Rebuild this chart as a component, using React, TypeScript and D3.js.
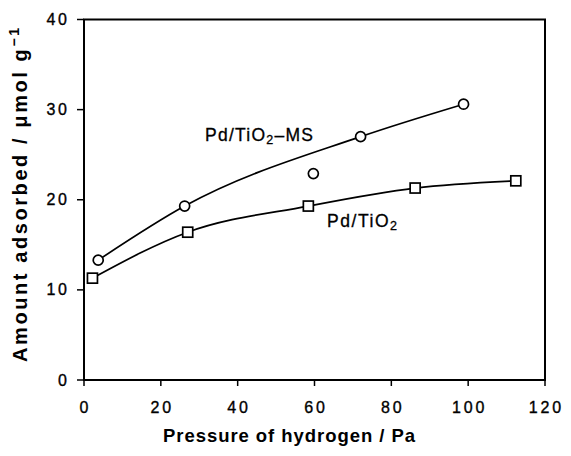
import React from "react";
import * as d3 from "d3";

const msPressure = [3.7, 26.2, 59.7, 72.0, 98.8];
const msAmount = [13.3, 19.3, 22.9, 27.0, 30.6];
const msCurvePressure = [3.7, 26.2, 72.0, 98.8];
const msCurveAmount = [13.3, 19.3, 27.0, 30.6];

const tiPressure = [2.2, 27.0, 58.4, 86.2, 112.4];
const tiAmount = [11.3, 16.4, 19.3, 21.3, 22.1];

const xTicks = [0, 20, 40, 60, 80, 100, 120];
const yTicks = [0, 10, 20, 30, 40];

const W = 571;
const H = 456;
const left = 84;
const right = 545;
const top = 19.5;
const bottom = 380;

export default function App() {
  const x = d3.scaleLinear().domain([0, 120]).range([left, right]);
  const y = d3.scaleLinear().domain([0, 40]).range([bottom, top]);
  const line = d3
    .line<[number, number]>()
    .x((d) => x(d[0]))
    .y((d) => y(d[1]))
    .curve(d3.curveMonotoneX);
  const msLine = line(msCurvePressure.map((p, i) => [p, msCurveAmount[i]] as [number, number]));
  const tiLine = line(tiPressure.map((p, i) => [p, tiAmount[i]] as [number, number]));
  const font = "Liberation Sans, Arial, sans-serif";
  const fs = 16;
  const ls = 2.8;
  const tw = (s: string) => s.length * fs * 0.556 + (s.length - 1) * ls;
  return (
    <svg width={W} height={H} style={{ position: "absolute", left: 0, top: 0, background: "#fff" }}>
      <rect x={0} y={0} width={W} height={H} fill="#fff" />
      <rect x={left} y={top} width={right - left} height={bottom - top} fill="none" stroke="#000" strokeWidth={2} />
      {xTicks.map((t) => (
        <g key={"x" + t}>
          <line x1={x(t)} x2={x(t)} y1={bottom} y2={bottom + 6} stroke="#000" strokeWidth={1.5} />
          <text
            x={x(t) - tw(String(t)) / 2}
            y={413}
            fontFamily={font}
            fontSize={fs}
            letterSpacing={ls}
            fill="#000"
            stroke="#000"
            strokeWidth={0.35}
          >
            {t}
          </text>
        </g>
      ))}
      {yTicks.map((t) => (
        <g key={"y" + t}>
          <line x1={left - 7} x2={left} y1={y(t)} y2={y(t)} stroke="#000" strokeWidth={1.5} />
          <text
            x={67 - tw(String(t))}
            y={y(t) + 5.5}
            fontFamily={font}
            fontSize={fs}
            letterSpacing={ls}
            fill="#000"
            stroke="#000"
            strokeWidth={0.35}
          >
            {t}
          </text>
        </g>
      ))}
      <path d={msLine ?? ""} fill="none" stroke="#000" strokeWidth={1.7} />
      <path d={tiLine ?? ""} fill="none" stroke="#000" strokeWidth={1.7} />
      {msPressure.map((p, i) => (
        <circle key={"c" + i} cx={x(p)} cy={y(msAmount[i])} r={5} fill="#fff" stroke="#000" strokeWidth={1.7} />
      ))}
      {tiPressure.map((p, i) => (
        <rect key={"s" + i} x={x(p) - 5} y={y(tiAmount[i]) - 5} width={10} height={10} fill="#fff" stroke="#000" strokeWidth={1.7} />
      ))}
      <text x={205} y={141} fontFamily={font} fontSize={17.5} textLength={108} lengthAdjust="spacing" fill="#000" stroke="#000" strokeWidth={0.3}>
        Pd/TiO<tspan fontSize={12.5} dy={3}>2</tspan><tspan dy={-3}>–MS</tspan>
      </text>
      <text x={327} y={227} fontFamily={font} fontSize={17.5} textLength={70} lengthAdjust="spacing" fill="#000" stroke="#000" strokeWidth={0.3}>
        Pd/TiO<tspan fontSize={12.5} dy={3}>2</tspan>
      </text>
      <text x={163} y={442} fontFamily={font} fontSize={18.5} fontWeight="bold" textLength={252} lengthAdjust="spacing" fill="#000">
        Pressure of hydrogen / Pa
      </text>
      <text
        transform="translate(27,362) rotate(-90)"
        fontFamily={font}
        fontSize={20}
        fontWeight="bold"
        textLength={334}
        lengthAdjust="spacing"
        fill="#000"
      >
        Amount adsorbed / μmol g<tspan fontSize={14} dy={-8}>−1</tspan>
      </text>
    </svg>
  );
}
